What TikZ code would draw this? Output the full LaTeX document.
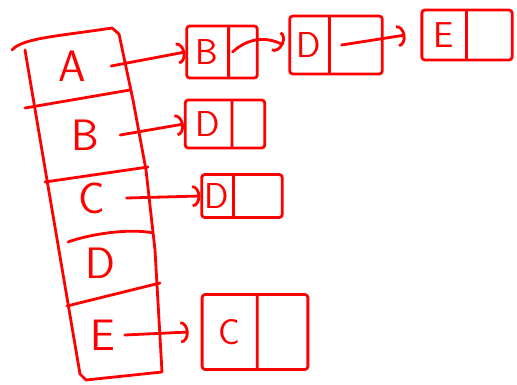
\documentclass[tikz,border=0pt]{standalone}
\usetikzlibrary{arrows.meta,shapes.multipart}

\begin{document}
\begin{tikzpicture}[x=1pt, y=-1pt,
    red, line width=2.8pt, line cap=round, line join=round,
    key/.style={font=\fontsize{44}{44}\sffamily, inner sep=2pt},
    cell/.style={draw, rectangle split, rectangle split horizontal,
                 rectangle split parts=2, inner ysep=0pt,
                 rounded corners=3pt, font=\fontsize{36}{36}\sffamily},
    arr/.style={-{Arc Barb[length=8pt, width=22pt]}}
  ]
    \useasboundingbox (0,0) rectangle (517,385);

    % table of vertices
    \draw (12,50) .. controls (22,38) and (60,36) .. (112,28)
          -- (119,34) -- (133,100) -- (146,170) -- (155,250)
          -- (162,372) -- (86,380) -- (80,374) -- (47,180) -- (25,50);
    \draw (25,108) -- (130,90);
    \draw (45,182) -- (148,167);
    \draw (68,242) .. controls (90,234) and (130,228) .. (153,233);
    \draw (67,306) -- (160,283);

    \node[key] (a) at (72,66) {A};
    \node[key] (b) at (85,135) {B};
    \node[key] (c) at (92,198) {C};
    \node[key] (d) at (100,263) {D};
    \node[key] (e) at (103,335) {E};

    % adjacency lists
    \node[cell, inner xsep=9pt, rectangle split empty part width=5pt,
          minimum height=52pt] (ab) at (222,52) {B\nodepart{two}};
    \node[cell, inner xsep=7pt, rectangle split empty part width=33pt,
          minimum height=58pt] (ad) at (336,45) {D\nodepart{two}};
    \node[cell, inner xsep=11.5pt, rectangle split empty part width=17pt,
          minimum height=50pt] (ae) at (467,35) {E\nodepart{two}};
    \node[cell, inner xsep=10.5pt, rectangle split empty part width=6pt,
          minimum height=48pt] (bd) at (225,124) {D\nodepart{two}};
    \node[cell, inner xsep=3pt, rectangle split empty part width=37pt,
          minimum height=43pt] (cd) at (242,196) {D\nodepart{two}};
    \node[cell, inner xsep=16pt, rectangle split empty part width=13pt,
          minimum height=75pt] (ec) at (255,332) {C\nodepart{two}};

    \draw[arr] ([xshift=22pt]a.east) -- (ab.west);
    \draw[arr] ([xshift=4pt]ab.one split) to[bend left=35]
          ([xshift=-5pt]ad.west);
    \draw[arr] ([xshift=12pt]ad.one split) -- ([xshift=-15pt]ae.west);
    \draw[arr] ([xshift=18pt]b.east) -- (bd.west);
    \draw[arr] ([xshift=18pt]c.east) -- (cd.west);
    \draw[arr] ([xshift=6pt]e.east) -- ([xshift=-12pt]ec.west);
\end{tikzpicture}
\end{document}
